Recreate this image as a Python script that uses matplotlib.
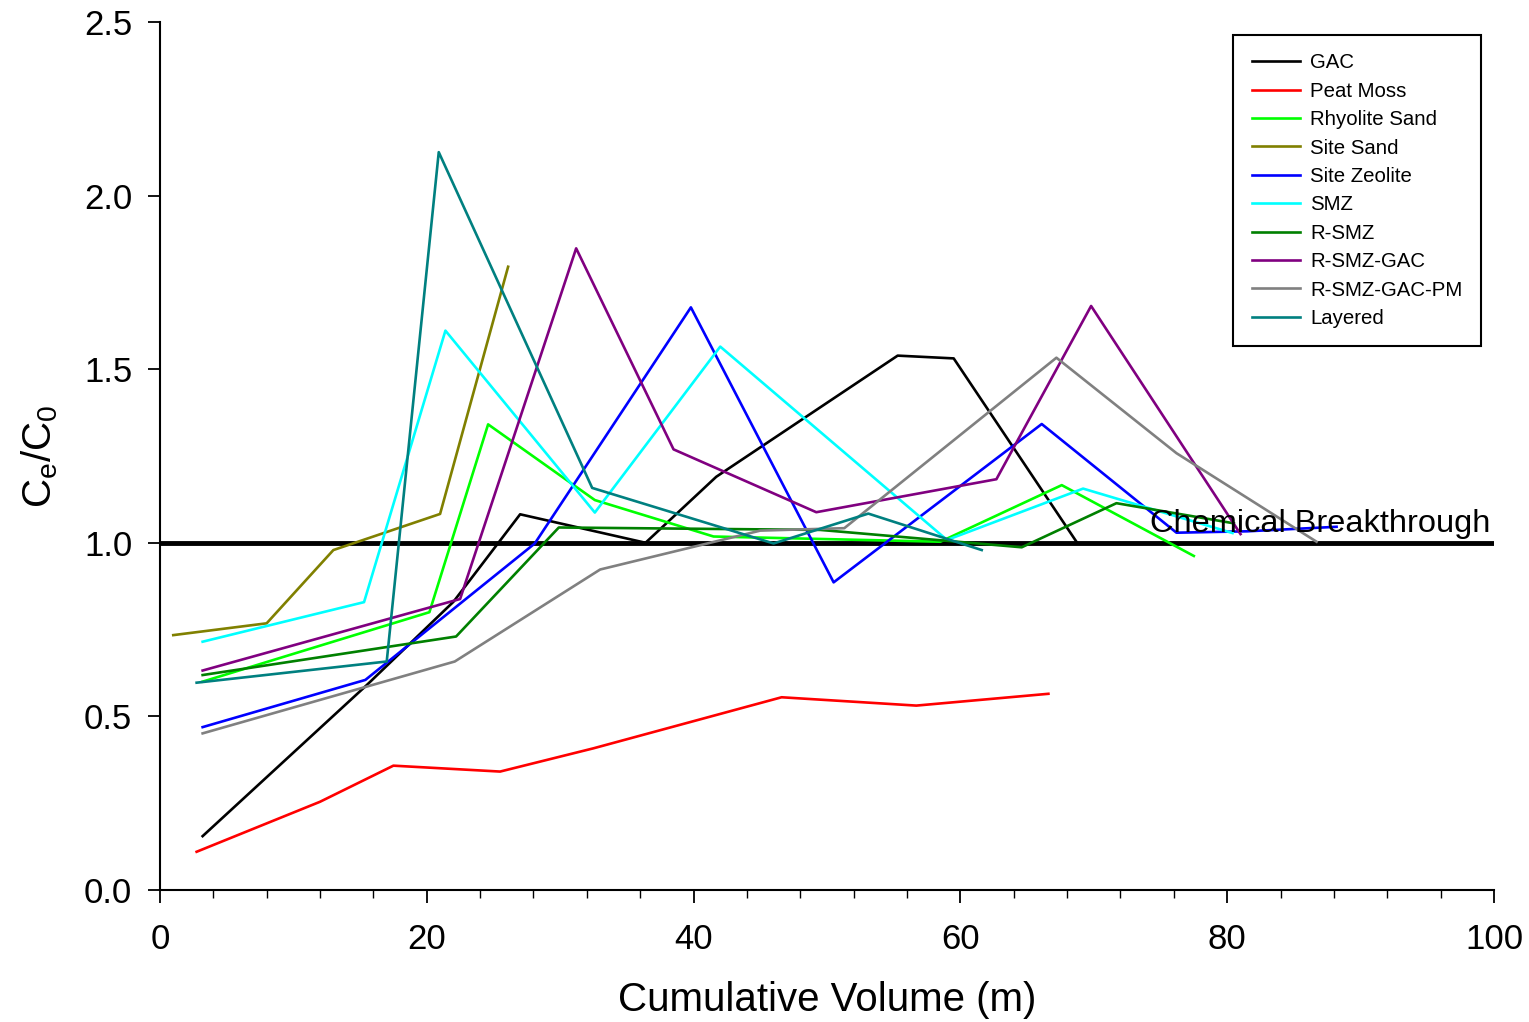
import matplotlib
matplotlib.use("Agg")
import matplotlib.pyplot as plt
from matplotlib.ticker import MultipleLocator

plt.rcParams['font.family'] = ['Liberation Sans', 'DejaVu Sans']

# ---- data ----
gac_x = [3.2, 15.5, 22.0, 27.0, 36.4, 41.7, 55.3, 59.5, 68.7]
gac_y = [0.155, 0.59, 0.83, 1.082, 1.0, 1.19, 1.539, 1.531, 1.003]

peat_x = [2.75, 12.0, 17.5, 25.5, 32.5, 46.6, 56.7, 66.6]
peat_y = [0.110, 0.254, 0.358, 0.341, 0.408, 0.555, 0.531, 0.565]

rhyo_x = [3.2, 20.2, 24.6, 32.6, 41.5, 58.5, 67.6, 77.5]
rhyo_y = [0.60, 0.80, 1.341, 1.123, 1.018, 1.003, 1.166, 0.962]

sitesand_x = [1.0, 8.0, 13.0, 21.0, 26.1]
sitesand_y = [0.734, 0.768, 0.979, 1.083, 1.795]

zeo_x = [3.2, 15.4, 28.1, 39.8, 50.5, 66.1, 76.2, 81.5, 88.2]
zeo_y = [0.469, 0.605, 0.998, 1.678, 0.886, 1.342, 1.029, 1.033, 1.046]

smz_x = [3.2, 15.3, 21.4, 32.6, 42.0, 59.0, 69.2, 80.4]
smz_y = [0.715, 0.829, 1.611, 1.087, 1.565, 1.008, 1.156, 1.028]

rsmz_x = [3.2, 22.2, 29.9, 49.5, 64.6, 71.7, 80.5]
rsmz_y = [0.619, 0.730, 1.044, 1.037, 0.987, 1.114, 1.056]

rsmzgac_x = [3.2, 22.5, 31.2, 38.5, 49.2, 62.7, 69.8, 81.0]
rsmzgac_y = [0.632, 0.838, 1.848, 1.269, 1.088, 1.183, 1.682, 1.025]

rsmzgacpm_x = [3.2, 22.1, 33.0, 45.0, 51.3, 67.2, 76.2, 86.7]
rsmzgacpm_y = [0.451, 0.658, 0.923, 1.035, 1.042, 1.533, 1.258, 1.003]

layered_x = [2.75, 17.0, 20.9, 32.4, 46.0, 53.1, 61.6]
layered_y = [0.597, 0.658, 2.125, 1.158, 0.998, 1.084, 0.979]

series = [
    ("GAC", gac_x, gac_y, "#000000"),
    ("Peat Moss", peat_x, peat_y, "#FF0000"),
    ("Rhyolite Sand", rhyo_x, rhyo_y, "#00FF00"),
    ("Site Sand", sitesand_x, sitesand_y, "#808000"),
    ("Site Zeolite", zeo_x, zeo_y, "#0000FF"),
    ("SMZ", smz_x, smz_y, "#00FFFF"),
    ("R-SMZ", rsmz_x, rsmz_y, "#008000"),
    ("R-SMZ-GAC", rsmzgac_x, rsmzgac_y, "#800080"),
    ("R-SMZ-GAC-PM", rsmzgacpm_x, rsmzgacpm_y, "#808080"),
    ("Layered", layered_x, layered_y, "#008080"),
]

breakthrough_level = 1.0
breakthrough_label = "Chemical Breakthrough"

# ---- figure ----
fig = plt.figure(figsize=(15.29, 10.22), dpi=100)
ax = fig.add_axes([0.1046, 0.1292, 0.8725, 0.8493])

for name, xs, ys, c in series:
    ax.plot(xs, ys, color=c, lw=1.9, label=name)

ax.axhline(breakthrough_level, color='black', lw=3.5, zorder=1)
ax.text(74.2, breakthrough_level + 0.012, breakthrough_label, fontsize=23.4,
        ha='left', va='bottom')

ax.set_xlim(0, 100)
ax.set_ylim(0, 2.5)
ax.xaxis.set_major_locator(MultipleLocator(20))
ax.xaxis.set_minor_locator(MultipleLocator(4))
ax.yaxis.set_major_locator(MultipleLocator(0.5))
ax.yaxis.set_major_formatter(matplotlib.ticker.FormatStrFormatter('%.1f'))

for s in ['top', 'right']:
    ax.spines[s].set_visible(False)
for s in ['left', 'bottom']:
    ax.spines[s].set_linewidth(1.5)

ax.tick_params(which='major', direction='out', length=9, width=1.3,
               labelsize=25)
ax.tick_params(axis='x', which='major', pad=15)
ax.tick_params(axis='y', which='major', pad=11)
ax.tick_params(which='minor', direction='out', length=5.5, width=1.0)

ax.set_xlabel("Cumulative Volume (m)", fontsize=29, labelpad=18)
ax.set_ylabel(r"C$_\mathregular{e}$/C$_\mathregular{0}$", fontsize=29, labelpad=17)

leg = ax.legend(loc='upper right', bbox_to_anchor=(0.99, 0.985), fontsize=14.7,
                frameon=True, fancybox=False, handlelength=2.35,
                labelspacing=0.46, borderpad=0.9, handletextpad=0.5,
                borderaxespad=0.0)
leg.get_frame().set_edgecolor('black')
leg.get_frame().set_linewidth(1.5)
leg.get_frame().set_alpha(1)

fig.savefig("out.png", dpi=100, facecolor='white')
